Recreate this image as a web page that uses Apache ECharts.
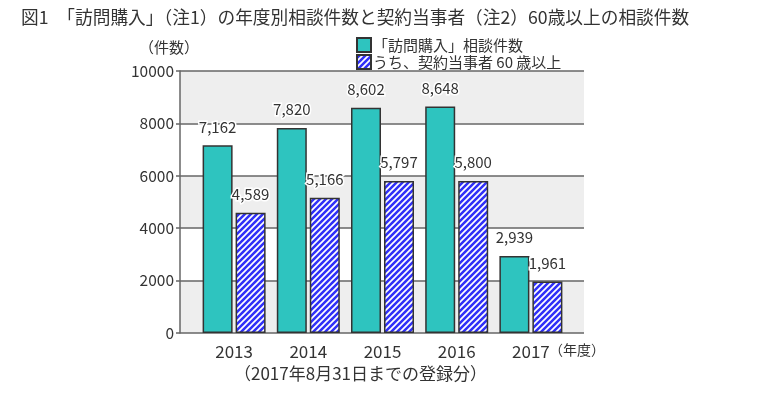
<!DOCTYPE html>
<html><head><meta charset="utf-8">
<script src="https://cdn.jsdelivr.net/npm/echarts@6/dist/echarts.min.js"></script>
<style>html,body{margin:0;padding:0;background:#fff}#c{width:780px;height:395px}</style>
</head><body><div id="c"></div>
<script>
const categories = ['2013', '2014', '2015', '2016', '2017'];
const totalCounts = [7162, 7820, 8602, 8648, 2939];
const elderlyCounts = [4589, 5166, 5797, 5800, 1961];
const yTicks = [0, 2000, 4000, 6000, 8000, 10000];
const seriesNames = ['「訪問購入」相談件数', 'うち、契約当事者 60 歳以上'];

const FONT = '"Noto Sans CJK JP", "Noto Sans", sans-serif';

// hatch pattern
const pc = document.createElement('canvas');
pc.width = 6; pc.height = 6;
const pctx = pc.getContext('2d');
pctx.fillStyle = '#3030f8';
pctx.fillRect(0, 0, 6, 6);
pctx.strokeStyle = '#ffffff';
pctx.lineWidth = 1.7;
pctx.beginPath();
pctx.moveTo(-1, 1); pctx.lineTo(1, -1);
pctx.moveTo(0, 6); pctx.lineTo(6, 0);
pctx.moveTo(5, 7); pctx.lineTo(7, 5);
pctx.stroke();

const chart = echarts.init(document.getElementById('c'), null, {renderer: 'canvas'});
const labelCommon = {
  show: true, position: 'top', distance: 11,
  fontFamily: FONT, fontSize: 15, color: '#333',
  textBorderColor: '#fff', textBorderWidth: 3,
  formatter: p => p.value.toLocaleString('en-US')
};
chart.setOption({
  animation: false,
  textStyle: {fontFamily: FONT},
  title: {
    text: '図1　「訪問購入」（注1）の年度別相談件数と契約当事者（注2）60歳以上の相談件数',
    left: 16, top: 3,
    textStyle: {fontFamily: FONT, fontSize: 17.7, fontWeight: 'normal', color: '#333'}
  },
  legend: {
    orient: 'vertical', left: 351, top: 32, itemWidth: 14, itemHeight: 14, itemGap: 1,
    icon: 'rect',
    data: seriesNames,
    textStyle: {fontFamily: FONT, fontSize: 15, color: '#333', padding: [0, 0, 0, -3], lineHeight: 15}
  },
  grid: [
    {left: 180, right: 196, top: 71, bottom: 62},
    {left: 197, right: 212, top: 71, bottom: 62}
  ],
  xAxis: [
    {gridIndex: 0, type: 'value', show: false, min: 0, max: 1},
    {gridIndex: 1, type: 'category', data: categories,
     axisLine: {show: false}, axisTick: {show: false},
     axisLabel: {fontFamily: FONT, fontSize: 17, color: '#333', margin: 10}}
  ],
  yAxis: [
    {gridIndex: 0, type: 'value', min: yTicks[0], max: yTicks[yTicks.length - 1], interval: 2000,
     axisLine: {show: true, lineStyle: {color: '#666', width: 1.5}},
     axisTick: {show: true, inside: false, length: 4, lineStyle: {color: '#666', width: 1.5}},
     axisLabel: {fontFamily: FONT, fontSize: 15.5, color: '#333', margin: 6, formatter: v => String(v)},
     splitLine: {show: true, lineStyle: {color: '#666', width: 1.5}},
     splitArea: {show: true, areaStyle: {color: ['#eeeeee', '#ffffff']}}},
    {gridIndex: 1, type: 'value', min: 0, max: 10000, show: false, splitLine: {show: false}}
  ],
  graphic: [
    {type: 'text', left: 139, top: 40, style: {text: '（件数）', font: '15px ' + FONT, fill: '#333'}},
    {type: 'text', left: 549, top: 343, style: {text: '（年度）', font: '14px ' + FONT, fill: '#333'}},
    {type: 'text', left: 234, top: 365, style: {text: '（2017年8月31日までの登録分）', font: '17px ' + FONT, fill: '#333'}}
  ],
  series: [
    {name: seriesNames[0], type: 'bar', xAxisIndex: 1, yAxisIndex: 1, data: totalCounts,
     barWidth: 30, barGap: '10%',
     itemStyle: {color: '#2ec4bf', borderColor: '#333', borderWidth: 1.5},
     label: labelCommon},
    {name: seriesNames[1], type: 'bar', xAxisIndex: 1, yAxisIndex: 1, data: elderlyCounts,
     barWidth: 30, barGap: '10%',
     itemStyle: {color: {image: pc, repeat: 'repeat'}, borderColor: '#333', borderWidth: 1.5},
     label: labelCommon}
  ]
});
</script></body></html>
